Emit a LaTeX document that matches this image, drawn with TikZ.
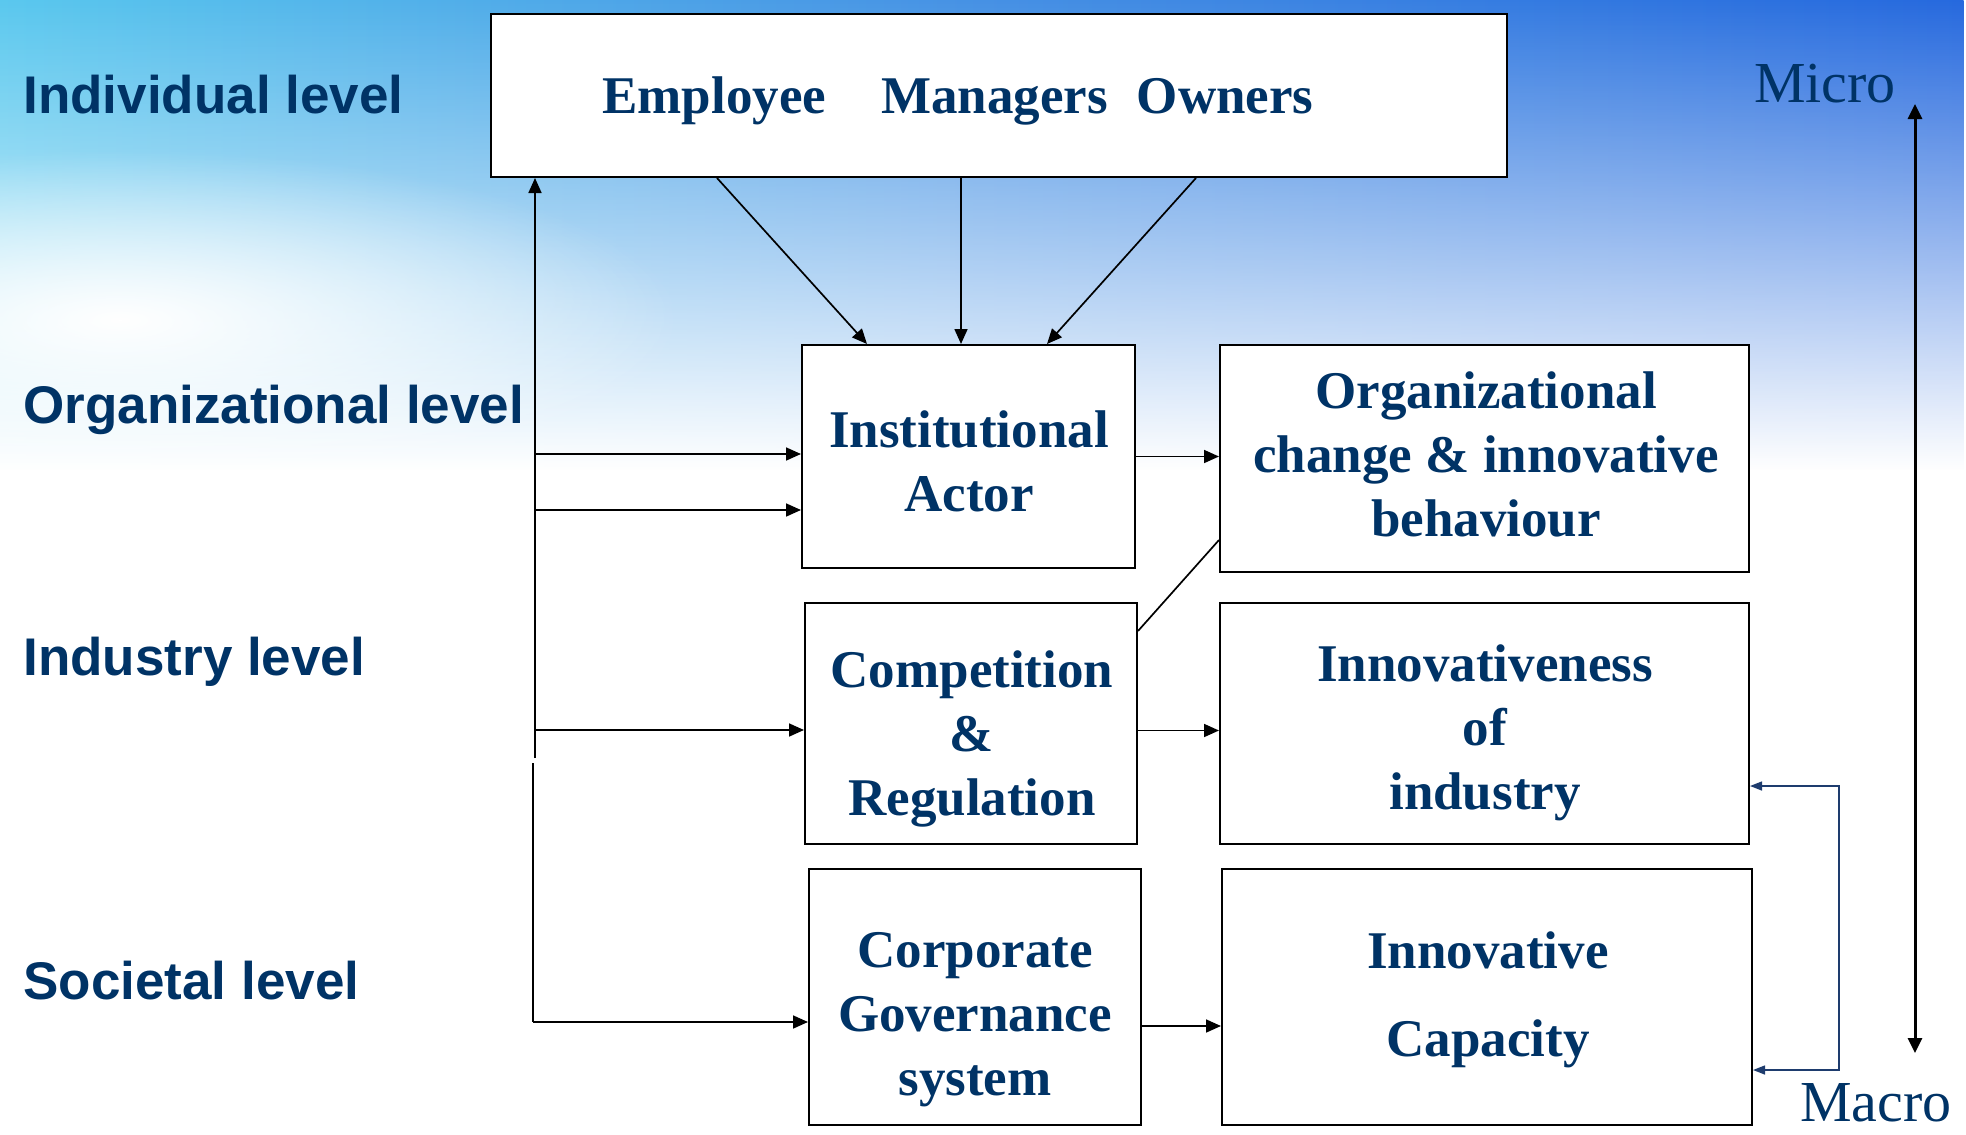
\documentclass[tikz,border=0pt]{standalone}
\usepackage{fontspec}
\setmainfont{Liberation Serif}
\setsansfont{Liberation Sans}
\usetikzlibrary{arrows.meta,fadings,calc}
\definecolor{navy}{RGB}{0,51,102}
\definecolor{skyL}{RGB}{90,200,238}
\definecolor{skyM}{RGB}{70,145,228}
\definecolor{skyR}{RGB}{38,105,222}
\definecolor{fbblue}{RGB}{30,60,110}
\tikzfading[name=fadedown, top color=transparent!0, middle color=transparent!45, bottom color=transparent!100]
\tikzfading[name=softblob, inner color=transparent!0, outer color=transparent!100]
\begin{document}
\begin{tikzpicture}[x=0.5pt,y=-0.5pt,
  box/.style={draw=black, line width=1pt, fill=white, inner sep=0pt},
  boxtext/.style={font=\fontsize{26.5pt}{32pt}\selectfont\bfseries, text=navy, align=center, inner sep=0pt},
  lvl/.style={font=\sffamily\bfseries\fontsize{26.5pt}{32pt}\selectfont, text=navy, anchor=base west, inner sep=0pt},
  scaletext/.style={font=\fontsize{29pt}{34pt}\selectfont, text=navy, inner sep=0pt},
  arr/.style={line width=0.85pt, -{Triangle[length=7.5pt,width=6.5pt]}},
  plain/.style={line width=0.85pt},
  fb/.style={draw=fbblue, line width=0.7pt, {Triangle[length=6pt,width=4.5pt]}-{Triangle[length=6pt,width=4.5pt]}},
  mm/.style={line width=1.5pt, {Triangle[length=7.5pt,width=7pt]}-{Triangle[length=7.5pt,width=7pt]}}
]
\useasboundingbox (0,0) rectangle (1966,1135);
% background
\fill[white] (0,0) rectangle (1966,1135);
\shade[left color=skyL, right color=skyR, middle color=skyM, path fading=fadedown] (0,0) rectangle (1966,470);
\fill[white, path fading=softblob] (120,320) ellipse (560 and 170);

% level labels
\node[lvl] (lInd) at (23,113) {Individual level};
\node[lvl] (lOrg) at (23,423) {Organizational level};
\node[lvl] (lIndu) at (23,675) {Industry level};
\node[lvl] (lSoc) at (23,999) {Societal level};

% boxes
\node[box, minimum width=508pt, minimum height=81.5pt] (top) at (999,95.5) {};
\node[box, minimum width=166.5pt, minimum height=111.5pt] (ia) at (968.5,456.5) {};
\node[box, minimum width=264.5pt, minimum height=113.5pt] (oc) at (1484.5,458.5) {};
\node[box, minimum width=166pt, minimum height=120.5pt] (comp) at (971,723.5) {};
\node[box, minimum width=264.5pt, minimum height=120.5pt] (inn) at (1484.5,723.5) {};
\node[box, minimum width=166pt, minimum height=128pt] (cg) at (975,997) {};
\node[box, minimum width=265pt, minimum height=128pt] (ic) at (1487,997) {};

% box texts
\node[boxtext, anchor=base west] (topT) at (602,113) {Employee\hspace{27.5pt}Managers\hspace{14.5pt}Owners};
\node[boxtext] (iaT) at (969,461) {Institutional\\Actor};
\node[boxtext] (ocT) at (1486,454) {Organizational\\change \& innovative\\behaviour};
\node[boxtext] (compT) at (972,739) {Competition\\\&\\Regulation};
\node[boxtext] (innT) at (1485,733) {Innovativeness\\of\\industry};
\node[boxtext] (cgT) at (975,1020) {Corporate\\Governance\\system};
\node[boxtext] (icT) at (1488,1000) {Innovative\\[12pt]Capacity};

% micro / macro
\node[scaletext] (micro) at (1825,84) {Micro};
\node[scaletext] (macro) at (1876,1103) {Macro};
\coordinate (mi) at (1915,104);
\coordinate (ma) at (1915,1053);
\draw[mm] (mi) -- (ma);

% top to institutional actor
\draw[arr] ([xshift=113.5pt]top.south west) -- ([xshift=33pt]ia.north west);
\draw[arr] ([xshift=235.5pt]top.south west) -- ([xshift=80pt]ia.north west);
\draw[arr] ([xshift=353pt]top.south west) -- ([xshift=123pt]ia.north west);

% left spine
\coordinate (sp1) at (535,758);
\coordinate (sp2) at (533,763);
\coordinate (j1) at (535,454);
\coordinate (j2) at (535,510);
\coordinate (j3) at (535,730);
\coordinate (j4) at (533,1022);
\draw[arr] (sp1) -- (sp1 |- top.south);
\draw[plain] (sp2) -- (j4);
\draw[arr] (j1) -- (j1 -| ia.west);
\draw[arr] (j2) -- (j2 -| ia.west);
\draw[arr] (j3) -- (j3 -| comp.west);
\draw[arr] (j4) -- (j4 -| cg.west);

% middle connectors
\draw[arr] (ia.east) -- (ia.east -| oc.west);
\draw[plain] ([yshift=-14.5pt]comp.north east) -- ([yshift=16.5pt]oc.south west);
\draw[arr] ([yshift=-3.5pt]comp.east) -- ([yshift=-3.5pt]inn.west);
\draw[arr] ([yshift=-14.5pt]cg.east) -- ([yshift=-14.5pt]ic.west);

% feedback bracket
\coordinate (fb1) at (1839,786);
\coordinate (fb2) at (1839,1070);
\draw[fb] (fb1 -| inn.east) -- (fb1) -- (fb2) -- (fb2 -| ic.east);
\end{tikzpicture}
\end{document}
